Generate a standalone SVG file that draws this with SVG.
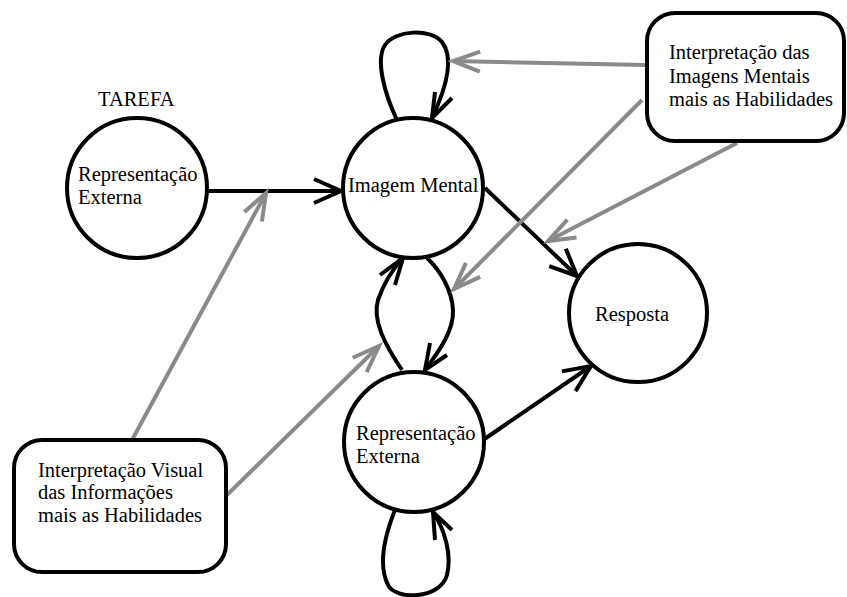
<svg xmlns="http://www.w3.org/2000/svg" width="847" height="597" viewBox="0 0 847 597">
<style>
.node{fill:#fff;stroke:#000;stroke-width:4}
.lbl{font-family:"Liberation Serif","Times New Roman",serif;font-size:20.5px;fill:#000}
.blk{fill:none;stroke:#000;stroke-width:4}
.gry{fill:none;stroke:#8a8a8a;stroke-width:4}
.head{fill:none;stroke:#000;stroke-width:4;stroke-linejoin:miter}
</style>
<defs>
<marker id="ab" markerUnits="userSpaceOnUse" markerWidth="40" markerHeight="40" refX="0" refY="0" orient="auto" overflow="visible">
<path d="M-27,-12 L0,0 L-27,12" fill="none" stroke="#000" stroke-width="4"/>
</marker>
<marker id="ag" markerUnits="userSpaceOnUse" markerWidth="40" markerHeight="40" refX="0" refY="0" orient="auto" overflow="visible">
<path d="M-27,-10 L0,0 L-27,10" fill="none" stroke="#8a8a8a" stroke-width="4"/>
</marker>
</defs>
<rect width="847" height="597" fill="#fff"/>
<g id="connectors">
<line class="blk" x1="207" y1="191" x2="341" y2="191" marker-end="url(#ab)"/>
<line class="blk" x1="485" y1="188" x2="577" y2="276" marker-end="url(#ab)"/>
<line class="blk" x1="483" y1="440" x2="591" y2="366" marker-end="url(#ab)"/>
<path class="blk" d="M397,120 C385,95 375,60 385,45 C395,30 430,28 442,42 C452,55 450,80 432,118"/>
<polyline class="head" points="435,92 432,118 452,98"/>
<path class="blk" d="M402,370 C385,345 372,320 378,300 C383,285 392,270 403,258"/>
<polyline class="head" points="380,275 403,258 395,285"/>
<path class="blk" d="M427,258 C440,270 452,290 453,310 C454,330 440,350 425,370"/>
<polyline class="head" points="430,343 425,370 447,355"/>
<path class="blk" d="M395,510 C385,535 378,565 388,585 C395,600 440,600 447,575 C452,555 445,530 433,512"/>
<polyline class="head" points="435,540 433,512 452,530"/>
<line class="gry" x1="645" y1="65" x2="453" y2="61" marker-end="url(#ag)"/>
<line class="gry" x1="642" y1="100" x2="454" y2="289" marker-end="url(#ag)"/>
<line class="gry" x1="737" y1="143" x2="548" y2="241" marker-end="url(#ag)"/>
<line class="gry" x1="132" y1="440" x2="266" y2="193" marker-end="url(#ag)"/>
<line class="gry" x1="227" y1="495" x2="379" y2="346" marker-end="url(#ag)"/>
</g>
<g id="tarefa">
<text class="lbl" x="98" y="106">TAREFA</text>
<circle class="node" cx="137" cy="188" r="70"/>
<text class="lbl" x="78" y="181">Representação</text>
<text class="lbl" x="78" y="204">Externa</text>
</g>
<g id="imagem-mental">
<circle class="node" cx="413" cy="188" r="70"/>
<text class="lbl" x="348" y="192">Imagem Mental</text>
</g>
<g id="representacao-externa">
<circle class="node" cx="414" cy="442" r="70"/>
<text class="lbl" x="356" y="440">Representação</text>
<text class="lbl" x="356" y="463">Externa</text>
</g>
<g id="resposta">
<circle class="node" cx="638" cy="313" r="69"/>
<text class="lbl" x="595" y="321">Resposta</text>
</g>
<g id="interp-imagens">
<rect class="node" x="647" y="13" width="197" height="128" rx="28"/>
<text class="lbl" x="669" y="59">Interpretação das</text>
<text class="lbl" x="669" y="83">Imagens Mentais</text>
<text class="lbl" x="669" y="106">mais as Habilidades</text>
</g>
<g id="interp-visual">
<rect class="node" x="14" y="440" width="212" height="132" rx="28"/>
<text class="lbl" x="38" y="477">Interpretação Visual</text>
<text class="lbl" x="38" y="499">das Informações</text>
<text class="lbl" x="38" y="522">mais as Habilidades</text>
</g>
</svg>
